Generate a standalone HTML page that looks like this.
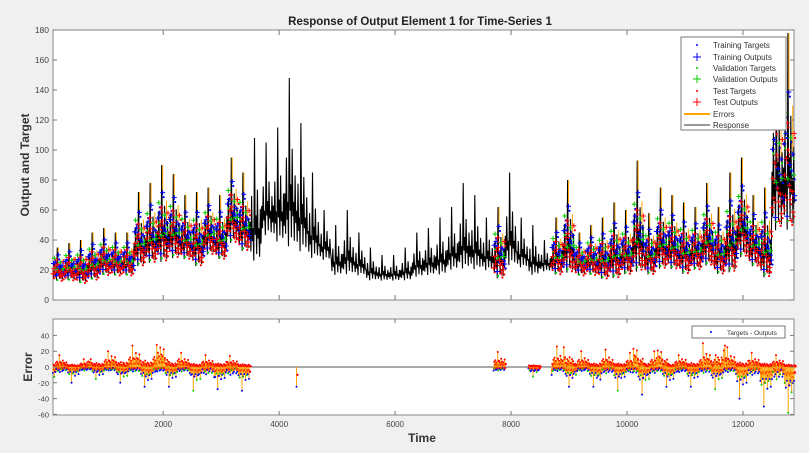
<!DOCTYPE html>
<html><head><meta charset="utf-8"><style>
body{margin:0;background:#f0f0f0;width:809px;height:453px;overflow:hidden;font-family:"Liberation Sans",sans-serif}
svg{display:block}
</style></head><body>
<svg id="c" width="809" height="453">
<rect x="0" y="0" width="809" height="453" fill="#f0f0f0"/>
<text x="420" y="25" font-size="11.5" font-weight="bold" text-anchor="middle" fill="#222">Response of Output Element 1 for Time-Series 1</text>
<text transform="translate(29,165) rotate(-90)" font-size="12" font-weight="bold" text-anchor="middle" fill="#333">Output and Target</text>
<text transform="translate(32,367) rotate(-90)" font-size="12" font-weight="bold" text-anchor="middle" fill="#333">Error</text>
<text x="422" y="442" font-size="12" font-weight="bold" text-anchor="middle" fill="#333">Time</text>
<rect x="53" y="30" width="741" height="270" fill="#fff" stroke="#888"/>
<rect x="53" y="319" width="741" height="96" fill="#fff" stroke="#888"/>
<g id="topg"></g><g id="bot"></g><g id="axes"></g>
<g>
<rect x="681" y="37" width="105" height="93" fill="#fff" stroke="#777"/>
<g font-size="8" fill="#333">
<circle cx="697" cy="45" r="1" fill="#00f"/><text x="713" y="48">Training Targets</text>
<path d="M693,57h8M697,53v8" stroke="#00f"/><text x="713" y="60">Training Outputs</text>
<circle cx="697" cy="68" r="1" fill="#0c0"/><text x="713" y="71">Validation Targets</text>
<path d="M693,79h8M697,75v8" stroke="#0c0"/><text x="713" y="82">Validation Outputs</text>
<circle cx="697" cy="91" r="1" fill="#f00"/><text x="713" y="94">Test Targets</text>
<path d="M693,102h8M697,98v8" stroke="#f00"/><text x="713" y="105">Test Outputs</text>
<path d="M684,114h26" stroke="#ffa500" stroke-width="2"/><text x="713" y="117">Errors</text>
<path d="M684,125h26" stroke="#333"/><text x="713" y="128">Response</text>
</g></g>
<g>
<rect x="692" y="326" width="93" height="12" fill="#fff" stroke="#777"/>
<circle cx="711" cy="332" r="1" fill="#00f"/><text x="727" y="335" font-size="6.5" fill="#333">Targets - Outputs</text>
</g>
</svg>
<script>
const binStart=100, binSize=200;
const respLo=[12,12,10,12,15,15,15,20,22,22,25,25,20,28,25,35,30,22,40,35,30,28,25,25,15,15,15,12,12,12,12,14,15,15,18,18,18,18,12,20,20,15,18,15,15,15,15,12,12,15,15,15,18,18,15,18,20,15,15,25,20,12,40,40];
const respHi=[35,38,40,45,48,45,45,72,78,90,84,70,72,75,70,95,85,108,105,115,148,118,85,60,50,60,45,35,30,30,35,45,48,55,62,78,70,55,62,85,55,50,40,55,80,45,50,55,65,60,93,58,75,70,65,62,78,62,85,95,70,75,170,178];
const errLo=[-25,-20,-18,-15,-18,-20,-22,-25,-30,-22,-25,-22,-30,-37,-28,-40,-30,null,null,null,null,-25,null,null,null,null,null,null,null,null,null,null,null,null,null,null,null,null,-18,null,null,-12,null,-20,-25,-20,-25,-32,-30,-25,-35,-30,-25,-30,-25,-25,-30,-28,-25,-40,-40,-50,-62,-58];
const errHi=[15,12,10,20,20,25,27,32,28,45,22,18,15,15,18,14,14,null,null,null,null,0,null,null,null,null,null,null,null,null,null,null,null,null,null,null,null,null,19,null,null,8,null,26,50,20,18,22,18,18,42,20,38,15,18,20,30,60,25,22,18,18,15,12];
const coloredTop=[1,1,1,1,1,1,1,1,1,1,1,1,1,1,1,1,1,0,0,0,0,0,0,0,0,0,0,0,0,0,0,0,0,0,0,0,0,0,1,0,0,0,0,1,1,1,1,1,1,1,1,1,1,1,1,1,1,1,1,1,1,1,1,1];
const xTicks=[2000,4000,6000,8000,10000,12000];
const yTicksTop=[0,20,40,60,80,100,120,140,160,180];
const yTicksBot=[-60,-40,-20,0,20,40];
const NS='http://www.w3.org/2000/svg';
const xs=t=>53+(t-100)/12780*741, ys=v=>300-v*1.5, ye=v=>367-v*0.79;
function mk(p,tag,a){const e=document.createElementNS(NS,tag);for(const k in a)e.setAttribute(k,a[k]);p.appendChild(e);return e;}
const topG=document.getElementById('topg'),bot=document.getElementById('bot'),ax=document.getElementById('axes');
const pat=[0.35,0.12,0.55,0.2,0.3,0.05,1.0,0.25,0.4,0.1,0.6,0.22,0.3,0.08,0.45,0.18];
const mp=[0.15,0.45,0.3,0.6,0.2,0.5,0.38,0.1,0.55,0.28,0.42,0.7,0.25,0.35,0.18,0.48,0.08,0.32,0.22,0.4,0.12,0.3,0.5,0.2];
const cols=['#f00','#00f','#f00','#0c0','#f00','#00f'];
const pat2=[0.3,0.2,0.5,0.15,0.25,0.35,0.1,0.45,0.2,0.3,0.15,1,0.25,0.4,0.1,0.3,0.2,0.55,0.15,0.35,0.05];
let d='';
respLo.forEach((lo,i)=>{const hi=respHi[i];for(let k=0;k<16;k++){const t=binStart+i*binSize+k*12.5;const x=xs(t);const v=lo+(hi-lo)*pat[k];d+=(d?'L':'M')+x.toFixed(1)+','+ys(v).toFixed(1);}});
const resp=mk(topG,'path',{d:d,stroke:'#000','stroke-width':1.1,fill:'none','stroke-linejoin':'bevel'});


respLo.forEach((lo,i)=>{
  if(!coloredTop[i])return;
  const hi=respHi[i];
  const g=mk(topG,'g',{});
  
  
  for(let k=0;k<24;k++){const t=binStart+i*binSize+k*8.3;const x=xs(t);const v=lo+(hi-lo)*mp[k]+2;const y=ys(v);
    if(k===11)mk(g,'line',{x1:x,x2:x,y1:y,y2:ys(hi),stroke:'#ffa500','stroke-width':1});
    if(k===3||k===19)mk(g,'line',{x1:x,x2:x,y1:y,y2:ys(lo+(hi-lo)*0.65),stroke:'#ffa500','stroke-width':1});
    mk(g,'path',{d:`M${x-2.5},${y}h5M${x},${y-2.5}v5`,stroke:cols[k%6],'stroke-width':1});
    mk(g,'circle',{cx:x+1,cy:ys(v-3),r:1.1,fill:cols[(k+2)%6]});}
});
mk(bot,'line',{x1:53,x2:794,y1:ye(0),y2:ye(0),stroke:'#555','stroke-width':1});
let ek=0;
errLo.forEach((lo,i)=>{
  if(lo===null)return;
  const hi=errHi[i];
  const g=mk(bot,'g',{});
  
  
  const n=(i===21)?1:20;
  for(let k=0;k<n;k++){const t=binStart+i*binSize+k*10;const x=xs(t);
    const f=(i===21)?1:pat2[(ek++)%21];
    const v=(k%2?hi:lo)*f;
    mk(g,'line',{x1:x,x2:x,y1:ye(0),y2:ye(v),stroke:'#ffa500','stroke-width':1});
    mk(g,'circle',{cx:x,cy:ye(v),r:1,fill:cols[(k+1)%6]});
    mk(g,'circle',{cx:x+1,cy:ye(v*0.4),r:1.2,fill:'#f00'});}
});
xTicks.forEach(t=>{const x=xs(t);
  mk(ax,'path',{d:`M${x},30v5M${x},300v-5M${x},319v4M${x},415v-4`,stroke:'#777'});
  const tx=mk(ax,'text',{x:x,y:427,'font-size':8,'text-anchor':'middle',fill:'#444'});tx.textContent=t;
  
  });
yTicksTop.forEach(v=>{const y=ys(v);
  mk(ax,'path',{d:`M53,${y}h4M794,${y}h-4`,stroke:'#777'});
  const tx=mk(ax,'text',{x:49,y:y+3,'font-size':8.5,'text-anchor':'end',fill:'#444'});tx.textContent=v;
  
  });
yTicksBot.forEach(v=>{const y=ye(v);
  mk(ax,'path',{d:`M53,${y}h4M794,${y}h-4`,stroke:'#777'});
  const tx=mk(ax,'text',{x:49,y:y+3,'font-size':7.5,'text-anchor':'end',fill:'#444'});tx.textContent=v;
  
  });
</script>
</body></html>
